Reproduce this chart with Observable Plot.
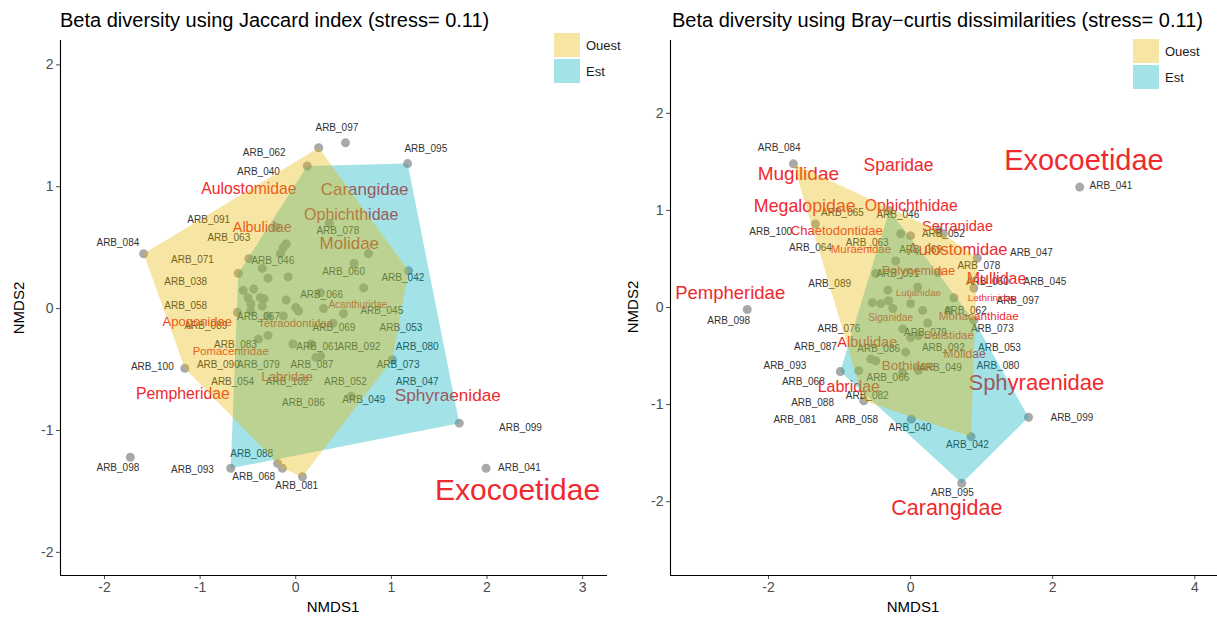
<!DOCTYPE html>
<html>
<head>
<meta charset="utf-8">
<script src="https://cdn.jsdelivr.net/npm/d3@7"></script>
<script src="https://cdn.jsdelivr.net/npm/@observablehq/plot@0.6"></script>
<style>
  html, body { margin:0; padding:0; background:#fff; }
  body { width:1217px; height:621px; position:relative; overflow:hidden; font-family:"Liberation Sans", Arial, sans-serif; }
  .abs { position:absolute; white-space:nowrap; line-height:1; }
  .title { font-size:20px; color:#000; }
  .axt { font-size:15px; color:#000; }
  .sw { position:absolute; width:26px; height:24px; }
  .lg { font-size:13px; color:#1a1a1a; }
  #left, #right { position:absolute; top:0; }
</style>
</head>
<body>
<div id="left"></div>
<div id="right"></div>
<script>
// ---------- Tick values ----------
const jacXTicks = [-2, -1, 0, 1, 2, 3];
const jacYTicks = [-2, -1, 0, 1, 2];
const brayXTicks = [-2, 0, 2, 4];
const brayYTicks = [-2, -1, 0, 1, 2];
const groups = ["Ouest", "Est"];

// ---------- Jaccard NMDS: site scores (g: O = Ouest, E = Est, X = not in a hull) ----------
const jacDots = [
  {x:0.52,y:1.36,g:"X"},{x:-1.73,y:-1.22,g:"X"},{x:1.99,y:-1.31,g:"X"},
  {x:0.24,y:1.32,g:"O"},{x:-1.59,y:0.45,g:"O"},{x:-1.16,y:-0.49,g:"O"},{x:-0.14,y:-1.31,g:"O"},
  {x:-0.19,y:-1.27,g:"O"},{x:0.07,y:-1.38,g:"O"},{x:0.58,y:-0.72,g:"O"},{x:1.01,y:-0.42,g:"O"},{x:1.18,y:0.31,g:"O"},
  {x:0.12,y:1.17,g:"E"},{x:1.17,y:1.19,g:"E"},{x:1.71,y:-0.94,g:"E"},{x:-0.68,y:-1.31,g:"E"},
  {x:-0.60,y:0.29,g:"E"},{x:-0.61,y:-0.03,g:"E"},
  {x:-0.21,y:0.67,g:"E"},{x:-0.10,y:0.53,g:"E"},{x:-0.13,y:0.50,g:"E"},{x:-0.16,y:0.45,g:"E"},
  {x:0.35,y:0.70,g:"E"},{x:0.76,y:0.45,g:"E"},{x:0.61,y:0.37,g:"E"},{x:-0.49,y:0.41,g:"E"},
  {x:-0.35,y:0.33,g:"E"},{x:-0.29,y:0.25,g:"E"},{x:-0.08,y:0.26,g:"E"},{x:-0.55,y:0.15,g:"E"},
  {x:-0.44,y:0.16,g:"E"},{x:-0.50,y:0.09,g:"E"},{x:-0.47,y:0.04,g:"E"},{x:-0.33,y:0.08,g:"E"},
  {x:-0.37,y:0.09,g:"E"},{x:-0.35,y:0.02,g:"E"},{x:-0.10,y:0.07,g:"E"},{x:0.00,y:0.01,g:"E"},
  {x:0.03,y:-0.02,g:"E"},{x:0.26,y:0.13,g:"E"},{x:0.29,y:0.00,g:"E"},{x:0.71,y:0.17,g:"E"},
  {x:0.50,y:-0.04,g:"E"},{x:-0.47,y:-0.02,g:"E"},{x:-0.29,y:-0.06,g:"E"},{x:0.39,y:-0.12,g:"E"},
  {x:-0.13,y:-0.06,g:"E"},{x:-0.29,y:-0.22,g:"E"},{x:-0.39,y:-0.25,g:"E"},{x:-0.03,y:-0.29,g:"E"},
  {x:0.16,y:-0.29,g:"E"},{x:0.26,y:-0.39,g:"E"},{x:0.21,y:-0.40,g:"E"}
];
const jacSites = [
  {t:"ARB_097",x:0.43,y:1.48},{t:"ARB_095",x:1.36,y:1.31},{t:"ARB_062",x:-0.33,y:1.28},{t:"ARB_040",x:-0.39,y:1.12},
  {t:"ARB_091",x:-0.91,y:0.73},{t:"ARB_063",x:-0.70,y:0.58},{t:"ARB_078",x:0.44,y:0.64},{t:"ARB_084",x:-1.86,y:0.54},
  {t:"ARB_071",x:-1.08,y:0.40},{t:"ARB_046",x:-0.24,y:0.39},{t:"ARB_060",x:0.50,y:0.30},{t:"ARB_042",x:1.12,y:0.25},
  {t:"ARB_038",x:-1.15,y:0.22},{t:"ARB_066",x:0.27,y:0.11},{t:"ARB_058",x:-1.15,y:0.02},{t:"ARB_045",x:0.90,y:-0.02},
  {t:"ARB_067",x:-0.39,y:-0.07},{t:"ARB_089",x:-0.94,y:-0.14},{t:"ARB_069",x:0.40,y:-0.16},{t:"ARB_053",x:1.10,y:-0.16},
  {t:"ARB_083",x:-0.63,y:-0.30},{t:"ARB_061",x:0.23,y:-0.31},{t:"ARB_092",x:0.66,y:-0.31},{t:"ARB_080",x:1.27,y:-0.31},
  {t:"ARB_090",x:-0.81,y:-0.46},{t:"ARB_079",x:-0.39,y:-0.46},{t:"ARB_087",x:0.17,y:-0.46},{t:"ARB_073",x:1.07,y:-0.46},
  {t:"ARB_100",x:-1.50,y:-0.48},{t:"ARB_054",x:-0.66,y:-0.60},{t:"ARB_102",x:-0.09,y:-0.60},{t:"ARB_052",x:0.52,y:-0.60},
  {t:"ARB_047",x:1.27,y:-0.60},{t:"ARB_086",x:0.08,y:-0.77},{t:"ARB_049",x:0.71,y:-0.75},{t:"ARB_099",x:2.35,y:-0.98},
  {t:"ARB_088",x:-0.46,y:-1.19},{t:"ARB_098",x:-1.86,y:-1.31},{t:"ARB_093",x:-1.08,y:-1.32},{t:"ARB_041",x:2.34,y:-1.31},
  {t:"ARB_068",x:-0.44,y:-1.38},{t:"ARB_081",x:0.01,y:-1.45}
];
const jacFamilies = [
  {t:"Aulostomidae",x:-0.49,y:0.98,s:15.7},{t:"Carangidae",x:0.72,y:0.98,s:17},{t:"Albulidae",x:-0.35,y:0.67,s:14.3},
  {t:"Ophichthidae",x:0.58,y:0.77,s:16},{t:"Molidae",x:0.56,y:0.53,s:17},{t:"Acanthuridae",x:0.65,y:0.03,s:10},
  {t:"Apogonidae",x:-1.03,y:-0.11,s:13},{t:"Tetraodontidae",x:0.00,y:-0.12,s:11.3},{t:"Pomacentridae",x:-0.68,y:-0.35,s:11.3},
  {t:"Labridae",x:-0.09,y:-0.56,s:13.3},{t:"Pempheridae",x:-1.18,y:-0.70,s:15.8},{t:"Sphyraenidae",x:1.59,y:-0.71,s:17.2},
  {t:"Exocoetidae",x:2.32,y:-1.49,s:30}
];

// ---------- Bray-Curtis NMDS ----------
const brayDots = [
  {x:-2.30,y:-0.02,g:"X"},{x:2.38,y:1.24,g:"X"},
  {x:-1.65,y:1.48,g:"O"},{x:0.46,y:0.76,g:"O"},{x:0.94,y:0.51,g:"O"},{x:0.85,y:-1.33,g:"O"},
  {x:-0.66,y:-0.96,g:"O"},{x:-0.73,y:-0.65,g:"O"},{x:-1.34,y:0.86,g:"O"},{x:0.89,y:0.20,g:"O"},
  {x:0.61,y:0.10,g:"O"},{x:0.39,y:0.36,g:"O"},{x:0.39,y:0.79,g:"O"},{x:0.00,y:0.74,g:"O"},
  {x:-0.30,y:1.00,g:"E"},{x:0.89,y:-0.13,g:"E"},{x:1.66,y:-1.13,g:"E"},{x:0.72,y:-1.81,g:"E"},
  {x:-0.99,y:-0.66,g:"E"},{x:0.01,y:-1.15,g:"E"},
  {x:-0.14,y:0.76,g:"E"},{x:-0.49,y:0.35,g:"E"},{x:-0.32,y:0.18,g:"E"},{x:-0.54,y:0.05,g:"E"},
  {x:-0.42,y:0.04,g:"E"},{x:-0.31,y:0.07,g:"E"},{x:-0.25,y:-0.01,g:"E"},{x:0.00,y:0.04,g:"E"},
  {x:0.17,y:-0.03,g:"E"},{x:-0.11,y:-0.22,g:"E"},{x:0.24,y:-0.16,g:"E"},{x:0.54,y:-0.03,g:"E"},
  {x:0.00,y:-0.31,g:"E"},{x:0.11,y:-0.29,g:"E"},{x:0.10,y:0.21,g:"E"},{x:0.10,y:-0.63,g:"E"},
  {x:-0.56,y:-0.53,g:"E"},{x:-0.49,y:-0.55,g:"E"},{x:-0.11,y:-0.67,g:"E"},{x:-0.07,y:-0.46,g:"E"},
  {x:0.11,y:-0.65,g:"E"},{x:-0.21,y:0.48,g:"E"}
];
const braySites = [
  {t:"ARB_084",x:-1.85,y:1.64},{t:"ARB_041",x:2.82,y:1.25},{t:"ARB_065",x:-0.96,y:0.98},{t:"ARB_046",x:-0.18,y:0.95},
  {t:"ARB_100",x:-1.97,y:0.78},{t:"ARB_052",x:0.46,y:0.76},{t:"ARB_063",x:-0.61,y:0.67},{t:"ARB_064",x:-1.41,y:0.61},
  {t:"ARB_069",x:0.14,y:0.59},{t:"ARB_047",x:1.70,y:0.56},{t:"ARB_078",x:0.96,y:0.43},{t:"ARB_091",x:-0.18,y:0.35},
  {t:"ARB_060",x:1.08,y:0.26},{t:"ARB_045",x:1.89,y:0.26},{t:"ARB_089",x:-1.14,y:0.24},{t:"ARB_097",x:1.51,y:0.07},
  {t:"ARB_098",x:-2.56,y:-0.14},{t:"ARB_062",x:0.77,y:-0.03},{t:"ARB_076",x:-1.01,y:-0.22},{t:"ARB_079",x:0.21,y:-0.26},
  {t:"ARB_073",x:1.15,y:-0.22},{t:"ARB_087",x:-1.34,y:-0.40},{t:"ARB_092",x:0.46,y:-0.42},{t:"ARB_053",x:1.25,y:-0.41},
  {t:"ARB_086",x:-0.45,y:-0.43},{t:"ARB_093",x:-1.77,y:-0.60},{t:"ARB_049",x:0.42,y:-0.62},{t:"ARB_080",x:1.23,y:-0.60},
  {t:"ARB_066",x:-0.32,y:-0.72},{t:"ARB_068",x:-1.51,y:-0.77},{t:"ARB_082",x:-0.61,y:-0.91},{t:"ARB_088",x:-1.38,y:-0.98},
  {t:"ARB_081",x:-1.63,y:-1.16},{t:"ARB_058",x:-0.76,y:-1.16},{t:"ARB_040",x:-0.01,y:-1.24},{t:"ARB_099",x:2.27,y:-1.14},
  {t:"ARB_042",x:0.80,y:-1.41},{t:"ARB_095",x:0.59,y:-1.91}
];
const brayFamilies = [
  {t:"Exocoetidae",x:2.44,y:1.51,s:29},{t:"Sparidae",x:-0.17,y:1.46,s:17.5},{t:"Mugilidae",x:-1.58,y:1.38,s:19},
  {t:"Ophichthidae",x:0.01,y:1.05,s:15.8},{t:"Megalopidae",x:-1.49,y:1.04,s:17.8},{t:"Serranidae",x:0.66,y:0.84,s:14.5},
  {t:"Chaetodontidae",x:-1.04,y:0.79,s:13},{t:"Aulostomidae",x:0.66,y:0.60,s:16.5},{t:"Muraenidae",x:-0.70,y:0.60,s:11.4},
  {t:"Polynemidae",x:0.11,y:0.38,s:12.7},{t:"Mullidae",x:1.21,y:0.30,s:16},{t:"Lutjanidae",x:0.11,y:0.15,s:9.8},
  {t:"Lethrinidae",x:1.15,y:0.10,s:9.9},{t:"Pempheridae",x:-2.54,y:0.15,s:18.5},{t:"Monacanthidae",x:0.96,y:-0.09,s:11.7},
  {t:"Siganidae",x:-0.28,y:-0.11,s:10.1},{t:"Balistidae",x:0.54,y:-0.29,s:11.5},{t:"Albulidae",x:-0.61,y:-0.36,s:14.6},
  {t:"Molidae",x:0.76,y:-0.48,s:12},{t:"Bothidae",x:-0.03,y:-0.60,s:13.5},{t:"Labridae",x:-0.87,y:-0.82,s:16},
  {t:"Sphyraenidae",x:1.77,y:-0.78,s:22},{t:"Carangidae",x:0.51,y:-2.07,s:21.5}
];

// ---------- styling ----------
const FONT = "Liberation Sans, Arial, sans-serif";
const fillOuest = "#E7B800", fillEst = "#00AFBB", hullAlpha = 0.36;

function panel(o) {
  return Plot.plot({
    width: o.width, height: 621,
    marginLeft: o.ml, marginRight: o.mr, marginTop: 40, marginBottom: 46,
    style: {fontFamily: FONT, fontSize: "14px", color: "#4D4D4D", background: "transparent", overflow: "visible"},
    x: {domain: o.xd, ticks: o.xt, tickFormat: d => String(d), tickSize: 4, tickPadding: 3, label: null},
    y: {domain: o.yd, ticks: o.yt, tickFormat: d => String(d), tickSize: 4, tickPadding: 3, label: null},
    marks: [
      Plot.dot(o.dots, {x: "x", y: "y", r: 4.5, fill: "#A9A9A9", stroke: "none"}),
      Plot.text(o.sites, {x: "x", y: "y", text: "t", fontSize: 10, fill: "#333333", fontFamily: FONT}),
      Plot.text(o.fams, {x: "x", y: "y", text: "t", fontSize: d => d.s, fill: "#EE2A2F", fontFamily: FONT}),
      Plot.hull(o.dots.filter(d => d.g === "E"), {x: "x", y: "y", fill: fillEst, fillOpacity: hullAlpha, stroke: "none"}),
      Plot.hull(o.dots.filter(d => d.g === "O"), {x: "x", y: "y", fill: fillOuest, fillOpacity: hullAlpha, stroke: "none"}),
      Plot.ruleX([o.xd[0]], {stroke: "#000", strokeWidth: 1.1}),
      Plot.ruleY([o.yd[0]], {stroke: "#000", strokeWidth: 1.1})
    ]
  });
}

document.getElementById("left").appendChild(panel({
  width: 612, ml: 60, mr: 5, xd: [-2.46, 3.26], yd: [-2.19, 2.2], xt: jacXTicks, yt: jacYTicks,
  dots: jacDots, sites: jacSites, fams: jacFamilies
}));
const right = document.getElementById("right");
right.style.left = "610px";
right.appendChild(panel({
  width: 607, ml: 60, mr: 0, xd: [-3.38, 4.32], yd: [-2.76, 2.75], xt: brayXTicks, yt: brayYTicks,
  dots: brayDots, sites: braySites, fams: brayFamilies
}));

// ---------- HTML text: titles, axis titles, legends ----------
function addText(txt, cls, css) {
  const d = document.createElement("div");
  d.className = "abs " + cls;
  d.textContent = txt;
  Object.assign(d.style, css);
  document.body.appendChild(d);
  return d;
}
addText("Beta diversity using Jaccard index (stress= 0.11)", "title", {left: "60px", top: "10px"});
addText("Beta diversity using Bray\u2212curtis dissimilarities (stress= 0.11)", "title", {left: "672px", top: "10px"});
addText("NMDS1", "axt", {left: "333px", top: "599px", transform: "translateX(-50%)"});
addText("NMDS1", "axt", {left: "913px", top: "599px", transform: "translateX(-50%)"});
addText("NMDS2", "axt", {left: "18px", top: "308px", transform: "translate(-50%,-50%) rotate(-90deg)"});
addText("NMDS2", "axt", {left: "632px", top: "307px", transform: "translate(-50%,-50%) rotate(-90deg)"});

function legend(x, y) {
  const cols = [fillOuest, fillEst];
  groups.forEach((g, i) => {
    const sw = document.createElement("div");
    sw.className = "sw";
    const c = d3.color(cols[i]);
    const mix = v => Math.round(255 * (1 - hullAlpha) + v * hullAlpha);
    sw.style.background = `rgb(${mix(c.r)},${mix(c.g)},${mix(c.b)})`;
    sw.style.left = x + "px";
    sw.style.top = (y + i * 26) + "px";
    document.body.appendChild(sw);
    addText(g, "lg", {left: (x + 32) + "px", top: (y + i * 26 + 12) + "px", transform: "translateY(-50%)"});
  });
}
legend(554, 33);
legend(1133, 39);
</script>
</body>
</html>
